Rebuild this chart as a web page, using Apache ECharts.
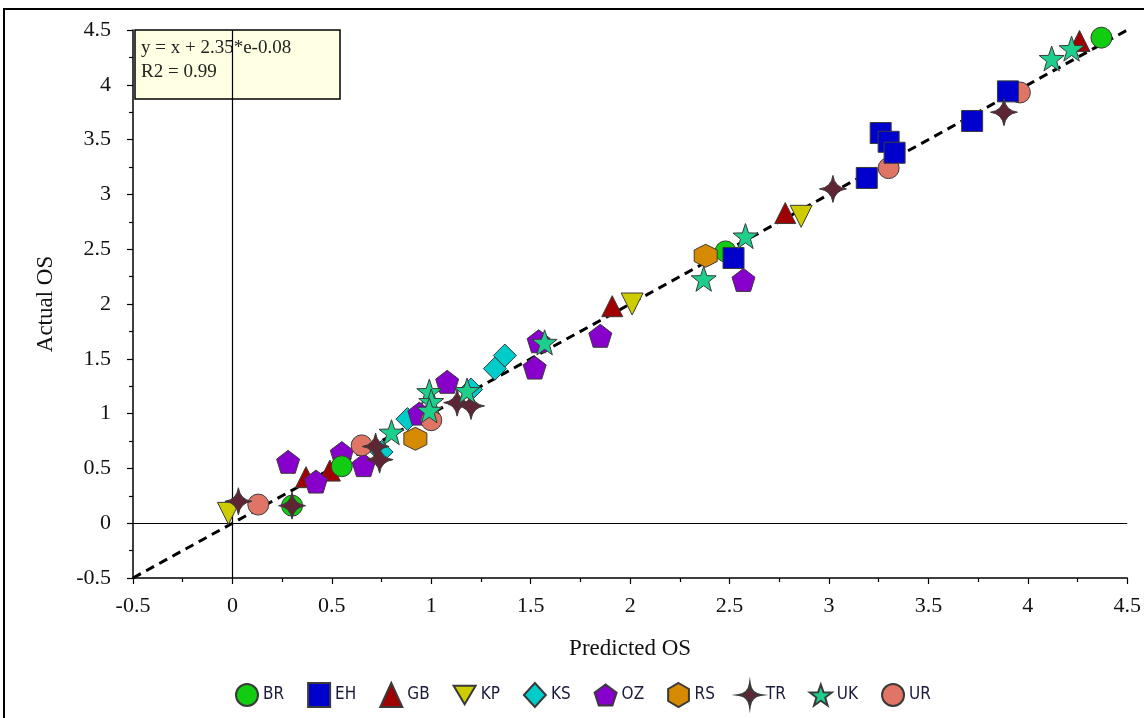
<!DOCTYPE html>
<html>
<head>
<meta charset="utf-8">
<script src="https://cdn.jsdelivr.net/npm/echarts@6/dist/echarts.min.js"></script>
<style>
  html, body { margin: 0; padding: 0; background: #fff; }
  #chart { width: 1144px; height: 718px; }
</style>
</head>
<body>
<div id="chart"></div>
<script>
// Predicted vs actual OS, one series per group: [predicted, actual]
const groupNames = ['BR', 'EH', 'GB', 'KP', 'KS', 'OZ', 'RS', 'TR', 'UK', 'UR'];

const BR = [[0.55, 0.52], [0.30, 0.16], [2.48, 2.48], [4.37, 4.43]];
const EH = [[2.52, 2.42], [3.19, 3.15], [3.26, 3.56], [3.30, 3.48], [3.33, 3.38], [3.72, 3.67], [3.90, 3.94]];
const GB = [[0.37, 0.42], [0.49, 0.48], [1.91, 1.98], [2.78, 2.83], [4.26, 4.40]];
const KP = [[-0.02, 0.09], [2.01, 2.00], [2.86, 2.80]];
const KS = [[0.75, 0.65], [0.88, 0.95], [1.20, 1.22], [1.32, 1.41], [1.37, 1.53]];
const OZ = [[0.28, 0.56], [0.42, 0.38], [0.55, 0.64], [0.66, 0.53], [0.94, 1.00], [1.08, 1.29],
            [1.54, 1.66], [1.52, 1.42], [1.85, 1.71], [2.57, 2.22]];
const RS = [[0.92, 0.77], [2.38, 2.44]];
const TR = [[0.03, 0.20], [0.30, 0.16], [0.72, 0.70], [0.74, 0.58], [1.13, 1.10], [1.20, 1.07],
            [3.02, 3.05], [3.88, 3.75]];
const UK = [[0.80, 0.83], [0.99, 1.20], [1.00, 1.11], [0.99, 1.03], [1.18, 1.21], [1.57, 1.65],
            [2.37, 2.23], [2.58, 2.62], [4.12, 4.24], [4.22, 4.33]];
const UR = [[0.13, 0.17], [0.65, 0.71], [1.00, 0.94], [3.30, 3.24], [3.96, 3.93]];

// Fitted line y = x + 2.35e-8
const fitSlope = 1;
const fitIntercept = 2.35e-8;
const fitRange = [-0.5, 4.5];
const fitText = ['y = x + 2.35*e-0.08', 'R2 = 0.99'];

const axisMin = -0.5, axisMax = 4.5, axisStep = 0.5;

const PENTAGON = 'path://M0,-10 L9.51,-3.09 L5.88,8.09 L-5.88,8.09 L-9.51,-3.09 Z';
const HEXAGON = 'path://M0,-10 L8.66,-5 L8.66,5 L0,10 L-8.66,5 L-8.66,-5 Z';
const STAR4 = 'path://M0,-10 Q1.2,-1.2 10,0 Q1.2,1.2 0,10 Q-1.2,1.2 -10,0 Q-1.2,-1.2 0,-10 Z';
const STAR5 = 'path://M0,-10 L2.35,-3.24 L9.51,-3.09 L3.80,1.24 L5.88,8.09 L0,4 L-5.88,8.09 L-3.80,1.24 L-9.51,-3.09 L-2.35,-3.24 Z';
const DOWN_TRI = 'path://M-10,-8 L10,-8 L0,9 Z';

const styles = {
  BR: { symbol: 'circle', size: 21, color: '#12cc12' },
  EH: { symbol: 'rect', size: 21, color: '#0000cc' },
  GB: { symbol: 'triangle', size: 21, color: '#a00000' },
  KP: { symbol: DOWN_TRI, size: 22, color: '#cccc00' },
  KS: { symbol: 'diamond', size: 23, color: '#00cccc' },
  OZ: { symbol: PENTAGON, size: 23, color: '#8800cc' },
  RS: { symbol: HEXAGON, size: 23, color: '#d68a00' },
  TR: { symbol: STAR4, size: 27, color: '#5e2634' },
  UK: { symbol: STAR5, size: 25, color: '#1ecf8c' },
  UR: { symbol: 'circle', size: 21, color: '#e07565' }
};

const groupData = { BR, EH, GB, KP, KS, OZ, RS, TR, UK, UR };
// stacking order of the marker layers
const drawOrder = ['GB', 'KP', 'KS', 'OZ', 'UR', 'BR', 'RS', 'EH', 'TR', 'UK'];

const scatterSeries = drawOrder.map((name, i) => ({
  name: name,
  type: 'scatter',
  data: groupData[name],
  symbol: styles[name].symbol,
  symbolSize: styles[name].size,
  z: 10 + i,
  itemStyle: {
    color: styles[name].color,
    borderColor: '#3a3a3a',
    borderWidth: 1,
    opacity: 1
  },
  emphasis: { disabled: true }
}));

const fitData = fitRange.map(x => [x, fitSlope * x + fitIntercept]);

const serif = '"Liberation Serif", "DejaVu Serif", serif';

const axisCommon = {
  type: 'value',
  min: axisMin,
  max: axisMax,
  interval: axisStep,
  axisLine: { onZero: false, lineStyle: { color: '#000', width: 1.5 } },
  axisTick: { inside: false, length: 6, lineStyle: { color: '#000', width: 1.2 } },
  minorTick: { show: true, splitNumber: 2, length: 4, lineStyle: { color: '#000', width: 1.2 } },
  splitLine: { show: false },
  nameLocation: 'middle',
  nameTextStyle: { fontFamily: serif, fontSize: 23, color: '#111' }
};

const chart = echarts.init(document.getElementById('chart'));
chart.setOption({
  animation: false,
  backgroundColor: '#fff',
  grid: { left: 133, right: 13, top: 30, bottom: 140, containLabel: false },
  xAxis: Object.assign({}, axisCommon, {
    name: 'Predicted OS',
    nameGap: 59,
    axisLabel: { fontFamily: serif, fontSize: 22, color: '#111', margin: 17 }
  }),
  yAxis: Object.assign({}, axisCommon, {
    name: 'Actual OS',
    nameGap: 76,
    axisLabel: { fontFamily: serif, fontSize: 22, color: '#111', margin: 22 }
  }),
  legend: {
    data: groupNames,
    left: 230,
    top: 677,
    itemWidth: 22,
    itemHeight: 24,
    itemGap: 23,
    textStyle: { fontFamily: '"DejaVu Sans Condensed", "Liberation Sans", sans-serif', fontSize: 17, color: '#1a1a3a' }
  },
  graphic: [
    {
      type: 'rect',
      silent: true,
      z: -1,
      shape: { x: 4, y: 9, width: 1200, height: 800 },
      style: { fill: 'transparent', stroke: '#000', lineWidth: 2 }
    },
    {
      type: 'rect',
      silent: true,
      z: 1,
      shape: { x: 135, y: 30, width: 205, height: 69 },
      style: { fill: '#ffffe3', stroke: '#000', lineWidth: 1.5 }
    },
    {
      type: 'text',
      silent: true,
      z: 1,
      left: 141,
      top: 36,
      style: { text: fitText.join('\n'), font: '19px ' + serif, fill: '#222', lineHeight: 24 }
    }
  ],
  series: [
    {
      name: 'fit',
      type: 'line',
      data: fitData,
      symbol: 'none',
      z: 5,
      lineStyle: { color: '#000', width: 3, type: [9, 6] },
      emphasis: { disabled: true },
      markLine: {
        silent: true,
        symbol: 'none',
        label: { show: false },
        lineStyle: { color: '#000', width: 1.2, type: 'solid' },
        data: [{ xAxis: 0 }, { yAxis: 0 }]
      }
    }
  ].concat(scatterSeries)
});
</script>
</body>
</html>
